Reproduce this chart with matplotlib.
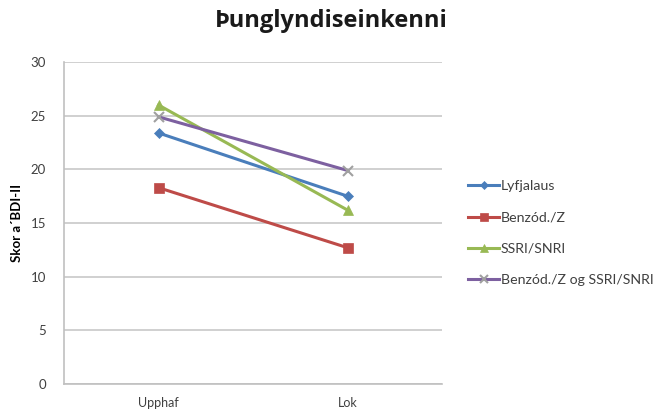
import numpy as np
import matplotlib
matplotlib.use('agg')
import matplotlib.pyplot as plt

plt.rcParams['font.family'] = ['Lato', 'DejaVu Sans']

# time points and mean BDI-II scores per medication group
timepoints = ['Upphaf', 'Lok']
groups = ['Lyfjalaus', 'Benzód./Z', 'SSRI/SNRI', 'Benzód./Z og SSRI/SNRI']
lyfjalaus = [23.4, 17.5]
benzod = [18.3, 12.7]
ssri = [26.0, 16.2]
benzod_ssri = [24.9, 19.9]
yticks = [0, 5, 10, 15, 20, 25, 30]

series = [lyfjalaus, benzod, ssri, benzod_ssri]
colors = ['#4A7EBB', '#BE4B48', '#98B954', '#7D60A0']
markers = ['D', 's', '^', 'x']
msizes = [5, 7, 7, 7]

fig = plt.figure(figsize=(6.57, 4.09), dpi=100)
ax = fig.add_axes([0.0974, 0.061, 0.576, 0.787])

x = np.arange(len(timepoints))
for vals, name, c, m, ms in zip(series, groups, colors, markers, msizes):
    ax.plot(x, vals, color=c, marker=m, markersize=ms, linewidth=2.2,
            markeredgewidth=1.5 if m == 'x' else 0.5,
            markeredgecolor=c if m != 'x' else '#A0A0A0', label=name)

ax.set_xlim(-0.5, 1.5)
ax.set_ylim(0, 30)
ax.set_xticks(x)
ax.set_xticklabels(timepoints, fontsize=9, color='#404040')
ax.set_yticks(yticks)
ax.set_yticklabels([str(t) for t in yticks], fontsize=9.5, color='#404040')
ax.tick_params(length=0, pad=13)
ax.tick_params(axis='x', pad=9)
ax.grid(axis='y', color='#C8C8C8', linewidth=1.2)
ax.set_axisbelow(True)
for s in ['top', 'right']:
    ax.spines[s].set_visible(False)
for s in ['left', 'bottom']:
    ax.spines[s].set_color('#C0C0C0')
    ax.spines[s].set_linewidth(1.2)

ax.set_ylabel('Skor a´BDI-II', fontsize=9.5, fontweight='bold', labelpad=5)
fig.text(0.504, 0.948, 'Þunglyndiseinkenni', ha='center', va='center',
         fontsize=17, fontweight='bold', color='#1A1A1A',
         family=['Open Sans', 'DejaVu Sans'])

ax.legend(loc='center left', bbox_to_anchor=(0.693, 0.43),
          bbox_transform=fig.transFigure, frameon=False, fontsize=10.2,
          handlelength=2.2, labelspacing=1.35, handletextpad=0.1,
          markerscale=0.8, labelcolor='#404040')

fig.savefig('out.png', dpi=100)
